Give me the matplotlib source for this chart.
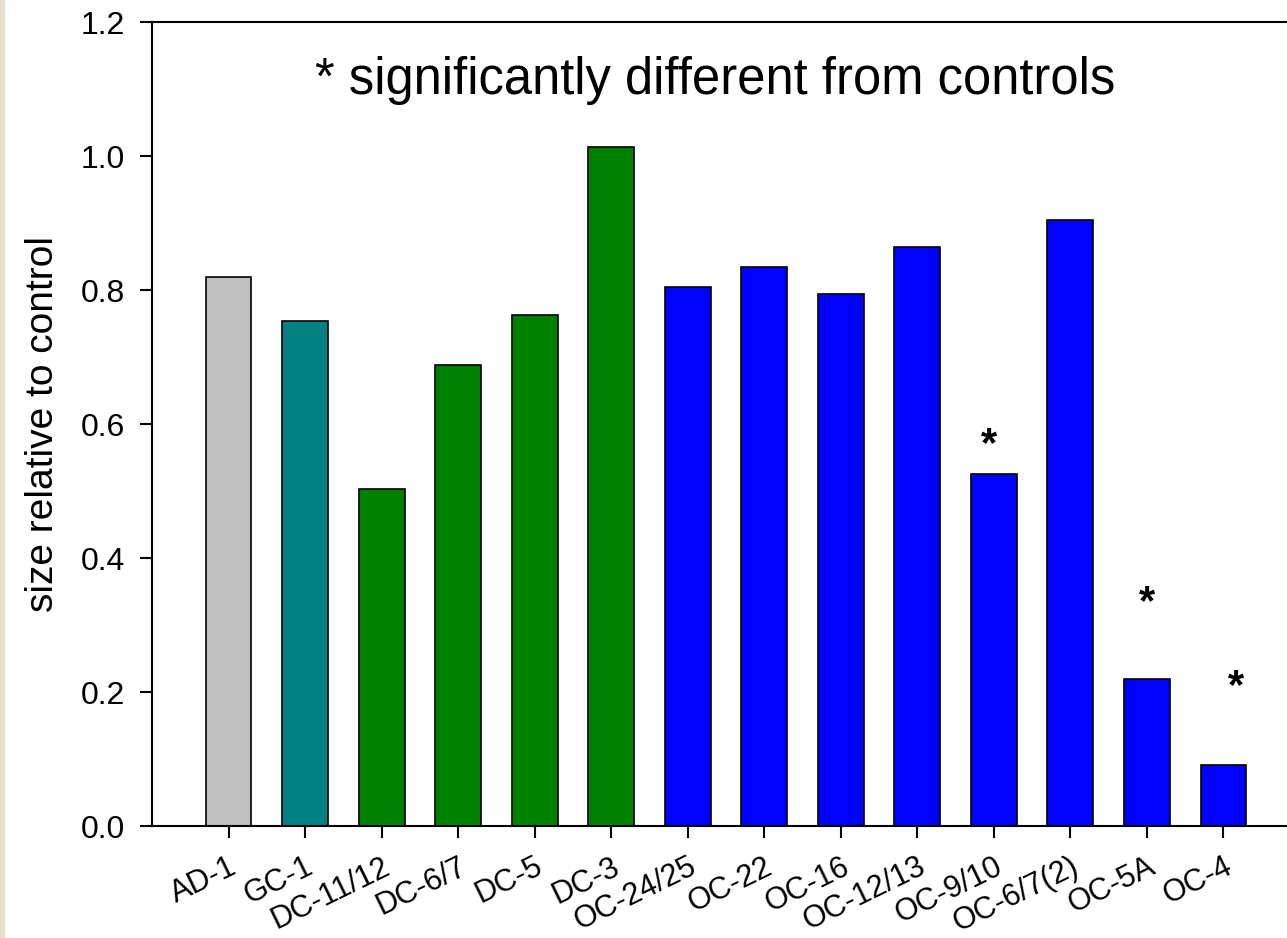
import numpy as np
import matplotlib.pyplot as plt
from matplotlib.patches import Rectangle

plt.rcParams['font.family'] = ['Liberation Sans', 'DejaVu Sans']

labels = ['AD-1', 'GC-1', 'DC-11/12', 'DC-6/7', 'DC-5', 'DC-3', 'OC-24/25',
          'OC-22', 'OC-16', 'OC-12/13', 'OC-9/10', 'OC-6/7(2)', 'OC-5A', 'OC-4']
values = [0.82, 0.754, 0.503, 0.688, 0.763, 1.014, 0.805,
          0.835, 0.794, 0.864, 0.525, 0.905, 0.219, 0.091]
colors = ['#c0c0c0', '#008080'] + ['#008000'] * 4 + ['#0000ff'] * 8

# significance stars (bar index, x offset, y)
star_idx = [10, 12, 13]
star_dx = [-0.065, 0.0, 0.17]
star_y = [0.569, 0.333, 0.207]

fig = plt.figure(figsize=(12.87, 9.38), dpi=100)
# thin beige strip on the left edge
fig.patches.append(Rectangle((0, 0), 4 / 1287, 1, transform=fig.transFigure,
                             color='#e6e2d2', zorder=-1))
ax = fig.add_axes([152 / 1287, (938 - 826) / 938, (1300 - 152) / 1287, (826 - 22.5) / 938])

x = np.arange(len(labels))
ax.bar(x, values, width=0.6, color=colors, edgecolor='black', linewidth=1.2, zorder=2)

for i, dx, yy in zip(star_idx, star_dx, star_y):
    ax.text(x[i] + dx, yy, '*', ha='center', va='center', fontsize=30, fontweight='bold')

ax.text(0.491, 0.928, '* significantly different from controls', transform=ax.transAxes,
        ha='center', va='center', fontsize=36.5)

ax.set_xlim(-1, 14)
ax.set_ylim(0, 1.2)
ax.set_yticks(np.arange(0, 1.21, 0.2))
ax.set_yticklabels([f'{v:.1f}' for v in np.arange(0, 1.21, 0.2)])
ax.set_xticks(x)
ax.set_xticklabels(labels, rotation=26, ha='right', rotation_mode='anchor')
ax.tick_params(axis='both', direction='out', length=8.5, width=1.5, labelsize=23)
ax.tick_params(axis='x', labelsize=22, pad=10)
ax.tick_params(axis='y', pad=11)
ax.set_ylabel('size relative to control', fontsize=28, labelpad=14)
ax.spines['right'].set_visible(False)
for s in ['left', 'top', 'bottom']:
    ax.spines[s].set_linewidth(1.5)

fig.savefig('out.png', dpi=100)
